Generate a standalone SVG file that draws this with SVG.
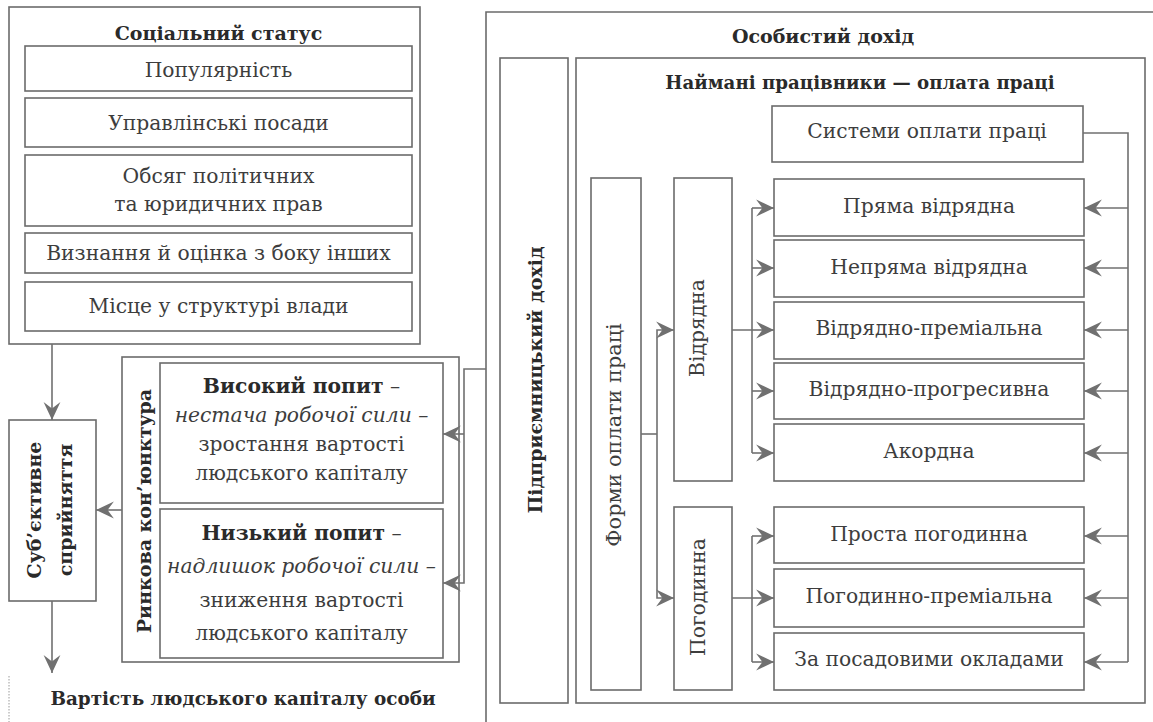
<svg xmlns="http://www.w3.org/2000/svg" width="1153" height="722" viewBox="0 0 1153 722">
<style>
.b{fill:#fff;stroke:#6b6b6b;stroke-width:1.6}
.o{fill:none;stroke:#6b6b6b;stroke-width:1.6}
.t{font-family:"DejaVu Serif","Liberation Serif",serif;font-size:20.3px;fill:#3d3d3d;text-anchor:middle}
.bt{font-weight:bold;fill:#2a2a2a;font-size:19px}
.it{font-style:italic}
.c{fill:none;stroke:#707070;stroke-width:1.6}
.ca{fill:none;stroke:#707070;stroke-width:1.6;marker-end:url(#ah)}
</style>
<defs>
<marker id="ah" markerUnits="userSpaceOnUse" markerWidth="20" markerHeight="20" viewBox="-18 -9 19 18" refX="0" refY="0" orient="auto">
<path d="M0,0 L-17,-8 L-11,0 L-17,8 Z" fill="#707070"/>
</marker>
</defs>
<rect width="1153" height="722" fill="#fff"/>

<g id="social-status">
<rect class="b" x="9" y="7" width="411" height="337"/>
<text class="t bt" x="218.5" y="40">Соціальний статус</text>
</g>
<g id="populiarnist"><rect class="b" x="25" y="46" width="387" height="45"/><text class="t" x="218.5" y="77">Популярність</text></g>
<g id="upravlinski"><rect class="b" x="25" y="98" width="387" height="49"/><text class="t" x="218.5" y="130">Управлінські посади</text></g>
<g id="obsiah"><rect class="b" x="25" y="155" width="387" height="71"/><text class="t" x="218.5" y="183">Обсяг політичних</text><text class="t" x="218.5" y="211">та юридичних прав</text></g>
<g id="vyznannia"><rect class="b" x="25" y="233" width="387" height="40"/><text class="t" x="218.5" y="260">Визнання й оцінка з боку інших</text></g>
<g id="mistse"><rect class="b" x="25" y="282" width="387" height="49"/><text class="t" x="218.5" y="313">Місце у структурі влади</text></g>

<g id="subjective">
<rect class="b" x="9" y="420" width="87" height="181"/>
<text class="t bt" transform="translate(41,510) rotate(-90)">Суб’єктивне</text>
<text class="t bt" transform="translate(72,510) rotate(-90)">сприйняття</text>
</g>

<g id="market">
<rect class="b" x="122" y="357" width="337" height="305"/>
<text class="t bt" transform="translate(151,511) rotate(-90)">Ринкова кон’юнктура</text>
</g>
<g id="high-demand">
<rect class="b" x="160" y="363" width="283" height="140"/>
<text class="t" x="301.5" y="393"><tspan font-weight="bold" fill="#2a2a2a">Високий попит</tspan> –</text>
<text class="t it" x="301.5" y="422">нестача робочої сили –</text>
<text class="t" x="301.5" y="451">зростання вартості</text>
<text class="t" x="301.5" y="480">людського капіталу</text>
</g>
<g id="low-demand">
<rect class="b" x="160" y="509" width="283" height="149"/>
<text class="t" x="301.5" y="540"><tspan font-weight="bold" fill="#2a2a2a">Низький попит</tspan> –</text>
<text class="t it" x="301.5" y="573">надлишок робочої сили –</text>
<text class="t" x="301.5" y="607">зниження вартості</text>
<text class="t" x="301.5" y="640">людського капіталу</text>
</g>

<g id="value">
<text class="t bt" x="243" y="705" style="font-size:18.4px">Вартість людського капіталу особи</text>
</g>

<g id="personal-income">
<path class="o" d="M1153,12 H486 V722"/>
<text class="t bt" x="823" y="43">Особистий дохід</text>
</g>
<g id="entrepreneurial">
<rect class="b" x="500" y="58" width="68" height="645"/>
<text class="t bt" transform="translate(542,380) rotate(-90)">Підприємницький дохід</text>
</g>
<g id="employees">
<rect class="b" x="576" y="58" width="569" height="645"/>
<text class="t bt" x="860" y="89" style="font-size:18.2px">Наймані працівники — оплата праці</text>
</g>
<g id="systems"><rect class="b" x="772" y="106" width="311" height="56"/><text class="t" x="927" y="138">Системи оплати праці</text></g>
<g id="forms"><rect class="b" x="591" y="178" width="50" height="512"/><text class="t" transform="translate(621,435) rotate(-90)" style="font-size:20.8px">Форми оплати праці</text></g>
<g id="piecework"><rect class="b" x="674" y="178" width="58" height="303"/><text class="t" transform="translate(704,328) rotate(-90)">Відрядна</text></g>
<g id="timework"><rect class="b" x="674" y="507" width="58" height="183"/><text class="t" transform="translate(705,597) rotate(-90)">Погодинна</text></g>

<g id="pryama"><rect class="b" x="774" y="179" width="310" height="57"/><text class="t" x="929" y="213">Пряма відрядна</text></g>
<g id="nepryama"><rect class="b" x="774" y="240" width="310" height="57"/><text class="t" x="929" y="274">Непряма відрядна</text></g>
<g id="vidr-prem"><rect class="b" x="774" y="302" width="310" height="57"/><text class="t" x="929" y="335">Відрядно-преміальна</text></g>
<g id="vidr-prog"><rect class="b" x="774" y="363" width="310" height="56"/><text class="t" x="929" y="396">Відрядно-прогресивна</text></g>
<g id="akordna"><rect class="b" x="774" y="424" width="310" height="57"/><text class="t" x="929" y="458">Акордна</text></g>
<g id="prosta"><rect class="b" x="774" y="507" width="310" height="56"/><text class="t" x="929" y="541">Проста погодинна</text></g>
<g id="pog-prem"><rect class="b" x="774" y="569" width="310" height="58"/><text class="t" x="929" y="603">Погодинно-преміальна</text></g>
<g id="posadovi"><rect class="b" x="774" y="633" width="310" height="57"/><text class="t" x="929" y="666">За посадовими окладами</text></g>

<g id="connectors">
<path class="ca" d="M52,344 V420"/>
<path class="ca" d="M52,601 V673"/>
<path class="ca" d="M122,510 H96"/>
<path class="ca" d="M486,369 H464 V583 H443"/>
<path class="ca" d="M464,434 H443"/>
<path class="c" d="M641,434 H657"/>
<path class="ca" d="M657,434 V330 H674"/>
<path class="ca" d="M657,434 V598 H674"/>
<path class="c" d="M732,330 H752 M752,208 V453"/>
<path class="ca" d="M752,208 H774"/>
<path class="ca" d="M752,268 H774"/>
<path class="ca" d="M752,330 H774"/>
<path class="ca" d="M752,391 H774"/>
<path class="ca" d="M752,453 H774"/>
<path class="c" d="M732,598 H752 M752,536 V662"/>
<path class="ca" d="M752,536 H774"/>
<path class="ca" d="M752,598 H774"/>
<path class="ca" d="M752,662 H774"/>
<path class="c" d="M1083,133 H1128 V662"/>
<path class="ca" d="M1128,208 H1084"/>
<path class="ca" d="M1128,268 H1084"/>
<path class="ca" d="M1128,330 H1084"/>
<path class="ca" d="M1128,391 H1084"/>
<path class="ca" d="M1128,453 H1084"/>
<path class="ca" d="M1128,536 H1084"/>
<path class="ca" d="M1128,598 H1084"/>
<path class="ca" d="M1128,662 H1084"/>
</g>
<path d="M9,676 V722" stroke="#9a9a9a" stroke-width="1" stroke-dasharray="1.5,1.5" fill="none"/>
</svg>
